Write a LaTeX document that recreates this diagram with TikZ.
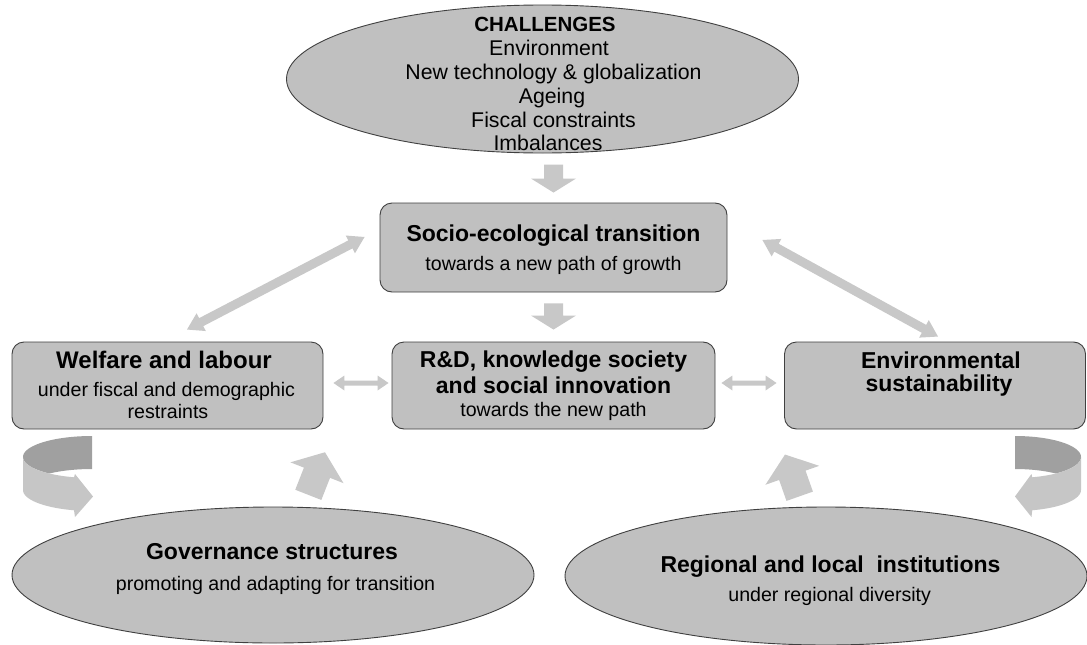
\documentclass[tikz,border=0pt]{standalone}
\usepackage{fontspec}
\setmainfont{Liberation Sans}
\usetikzlibrary{calc,shapes.geometric}
\definecolor{boxfill}{RGB}{192,192,192}
\definecolor{boxline}{RGB}{64,64,64}
\definecolor{arrowfill}{RGB}{200,200,200}
\definecolor{ribdark}{RGB}{160,160,160}
\definecolor{riblight}{RGB}{198,198,198}
\newcommand\ttl{\fontsize{23}{27}\selectfont\bfseries}
\newcommand\subtxt{\fontsize{19.6}{23}\selectfont}
\newcommand\chtxt{\fontsize{21.3}{24}\selectfont}
% block arrow: #1 colour, #2 start, #3 tip, #4 half shaft, #5 half head, #6 head length
\newcommand\blockarrow[6]{%
  \path ($(#3)!#6!(#2)$) coordinate (bah);
  \fill[#1] ($(#2)!#4!90:(#3)$) -- ($(bah)!#4!90:(#3)$) -- ($(bah)!#5!90:(#3)$) -- (#3)
    -- ($(bah)!#5!-90:(#3)$) -- ($(bah)!#4!-90:(#3)$) -- ($(#2)!#4!-90:(#3)$) -- cycle;}
% double arrow: #1 colour, #2 end1, #3 end2, #4 half shaft, #5 half head, #6 head length
\newcommand\dblarrow[6]{%
  \path ($(#2)!#6!(#3)$) coordinate (dba) ($(#3)!#6!(#2)$) coordinate (dbb);
  \fill[#1] (#2) -- ($(dba)!#5!90:(#3)$) -- ($(dba)!#4!90:(#3)$) -- ($(dbb)!#4!-90:(#2)$)
    -- ($(dbb)!#5!-90:(#2)$) -- (#3) -- ($(dbb)!#5!90:(#2)$) -- ($(dbb)!#4!90:(#2)$)
    -- ($(dba)!#4!-90:(#3)$) -- ($(dba)!#5!-90:(#3)$) -- cycle;}
\begin{document}
\begin{tikzpicture}[x=1pt,y=-1pt,
  box/.style={draw=boxline, fill=boxfill, line width=0.9pt, rounded corners=12pt, inner sep=0pt},
  oval/.style={draw=boxline, fill=boxfill, line width=0.9pt, ellipse, inner sep=0pt},
  txt/.style={anchor=base, inner sep=0pt, font=\subtxt},
  ttxt/.style={anchor=base, inner sep=0pt, font=\ttl}]
\useasboundingbox (0,0) rectangle (1087,645);
\fill[white] (0,0) rectangle (1087,645);

% shapes
\node[oval, minimum width=512pt, minimum height=148pt] (chal) at (542.5,79) {};
\node[box, minimum width=347pt, minimum height=89pt] (soc) at (553.5,247.5) {};
\node[box, minimum width=323pt, minimum height=87pt] (rd) at (553.5,385.5) {};
\node[box, minimum width=311pt, minimum height=87pt] (wel) at (167.5,385.5) {};
\node[box, minimum width=301pt, minimum height=87pt] (env) at (935,385.5) {};
\node[oval, minimum width=522pt, minimum height=136pt] (gov) at (273,575) {};
\node[oval, minimum width=522pt, minimum height=138pt] (reg) at (826,576) {};

% texts
\node[anchor=base, inner sep=0pt, font=\fontsize{20.5}{24}\selectfont\bfseries] (ch0) at (545,31) {CHALLENGES};
\node[anchor=base, inner sep=0pt, font=\chtxt] (ch1) at (549,55) {Environment};
\node[anchor=base, inner sep=0pt, font=\chtxt] (ch2) at (553.5,79.3) {New technology \& globalization};
\node[anchor=base, inner sep=0pt, font=\chtxt] (ch3) at (552,103.3) {Ageing};
\node[anchor=base, inner sep=0pt, font=\chtxt] (ch4) at (553.5,127.7) {Fiscal constraints};
\node[anchor=base, inner sep=0pt, font=\chtxt] (ch5) at (548,150) {Imbalances};

\node[ttxt] (soc1) at (553.5,241.7) {Socio-ecological transition};
\node[txt] (soc2) at (553.5,270) {towards a new path of growth};

\node[ttxt] (rd1) at (553.5,367.3) {R\&D, knowledge society};
\node[ttxt] (rd2) at (553.5,393.3) {and social innovation};
\node[txt] (rd3) at (553.5,416) {towards the new path};

\node[ttxt, font=\fontsize{24}{27}\selectfont\bfseries] (wel1) at (164,368.3) {Welfare and labour};
\node[txt] (wel2) at (166.5,396) {under fiscal and demographic};
\node[txt] (wel3) at (168,418.3) {restraints};

\node[ttxt] (env1) at (941,368.3) {Environmental};
\node[ttxt] (env2) at (939,391.7) {sustainability};

\node[ttxt] (gov1) at (272,559.3) {Governance structures};
\node[txt] (gov2) at (275.5,590) {promoting and adapting for transition};

\node[ttxt] (reg1) at (830.5,572.7) {Regional and local\ \ institutions};
\node[txt] (reg2) at (829.7,601.7) {under regional diversity};

% block arrows down
\coordinate (a1s) at ($(soc.north)+(0,-38)$);
\coordinate (a1e) at ($(soc.north)+(0,-10)$);
\blockarrow{arrowfill}{a1s}{a1e}{9.5pt}{22.5pt}{14pt}
\coordinate (a2s) at ($(soc.south)+(0,11)$);
\coordinate (a2e) at ($(rd.north)+(0,-12)$);
\blockarrow{arrowfill}{a2s}{a2e}{9.5pt}{22.5pt}{14pt}

% diagonal double arrows
\coordinate (dl1) at ($(wel.north)+(19.5,-12)$);
\coordinate (dl2) at ($(soc.west)+(-15,-10.5)$);
\dblarrow{arrowfill}{dl1}{dl2}{4.5pt}{10pt}{16pt}
\coordinate (dr1) at ($(soc.east)+(35,-7.5)$);
\coordinate (dr2) at ($(env.north)+(3,-5)$);
\dblarrow{arrowfill}{dr1}{dr2}{4.5pt}{10pt}{16pt}

% horizontal double arrows
\coordinate (h1a) at ($(wel.east)+(10,-2.5)$);
\coordinate (h1b) at ($(rd.west)+(-3,-2.5)$);
\dblarrow{arrowfill}{h1a}{h1b}{2.5pt}{7.5pt}{11pt}
\coordinate (h2a) at ($(rd.east)+(6,-2.5)$);
\coordinate (h2b) at ($(env.west)+(-7.5,-2.5)$);
\dblarrow{arrowfill}{h2a}{h2b}{2.5pt}{7.5pt}{11pt}

% tilted up arrows
\coordinate (u1s) at ($(gov.north)+(35.3,-11.7)$);
\coordinate (u1e) at ($(gov.north)+(52,-54.3)$);
\blockarrow{arrowfill}{u1s}{u1e}{14pt}{28.5pt}{22pt}
\coordinate (u2s) at ($(reg.north)+(-26.3,-10.3)$);
\coordinate (u2e) at ($(reg.north)+(-41,-52)$);
\blockarrow{arrowfill}{u2s}{u2e}{14pt}{28.5pt}{22pt}

% curved ribbon arrows (left)
\fill[ribdark] plot[domain=90:180, samples=30] ({92+69*cos(\x)},{457-21*sin(\x)})
  -- plot[domain=180:231.8, samples=20] ({92+69*cos(\x)},{457-21*sin(\x)})
  -- plot[domain=128.2:90, samples=20] ({92+69*cos(\x)},{490-21*sin(\x)}) -- cycle;
\fill[riblight] plot[domain=180:254.9, samples=30] ({92+69*cos(\x)},{457-21*sin(\x)})
  -- (75,474) -- (93,496.5) -- (75,517)
  -- plot[domain=254.9:180, samples=30] ({92+69*cos(\x)},{490-21*sin(\x)}) -- cycle;
% curved ribbon arrows (right)
\fill[ribdark] plot[domain=90:0, samples=30] ({1015+66*cos(\x)},{457-21*sin(\x)})
  -- plot[domain=0:-51.8, samples=20] ({1015+66*cos(\x)},{457-21*sin(\x)})
  -- plot[domain=51.8:90, samples=20] ({1015+66*cos(\x)},{490-21*sin(\x)}) -- cycle;
\fill[riblight] plot[domain=0:-74.9, samples=30] ({1015+66*cos(\x)},{457-21*sin(\x)})
  -- (1031.5,474) -- (1015,496.5) -- (1031.5,517)
  -- plot[domain=-74.9:0, samples=30] ({1015+66*cos(\x)},{490-21*sin(\x)}) -- cycle;
\end{tikzpicture}
\end{document}
